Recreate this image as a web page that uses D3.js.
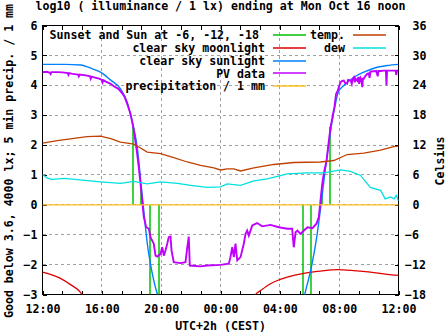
<!DOCTYPE html>
<html><head><meta charset="utf-8">
<script src="https://cdn.jsdelivr.net/npm/d3@7"></script>
<style>
body{margin:0;background:#fff}
svg{display:block;font-family:"DejaVu Sans Mono",monospace;font-weight:bold;font-size:11.6px}
</style></head><body>
<script>
// ---- data (hours after Sun Oct 15 12:00, UTC+2) ----
const xTickHours = [0, 4, 8, 12, 16, 20, 24];
const xTickLabels = ["12:00", "16:00", "20:00", "00:00", "04:00", "08:00", "12:00"];
const yTicks = [-3, -2, -1, 0, 1, 2, 3, 4, 5, 6];
const y2Ticks = [-18, -12, -6, 0, 6, 12, 18, 24, 30, 36];

// sunset / sun at -6, -12, -18 (time, value reached by the marker)
const sunT = [6.11, 6.67, 7.23, 7.87, 17.55, 18.13, 18.81, 19.37];
const sunV = [2.6, 0.5, -3, -3, -3, -3, 0.5, 2.6];

// clear sky moonlight
const moonT = [0, 0.54, 1.21, 1.89, 2.56, 3.0, null, 14.1, 14.36, 14.7, 15.37, 16.5, 17.62, 18.74, 19.87, 20.99, 22.11, 23.24, 24];
const moonV = [-2.25, -2.33, -2.46, -2.67, -2.93, -3.3, null, -3.3, -3.0, -2.87, -2.64, -2.42, -2.29, -2.22, -2.17, -2.2, -2.25, -2.33, -2.36];

// clear sky sunlight
const sunlightT = [0, 1.5, 2.56, 3.2, 3.91, 4.58, 5.26, 5.71, 5.95, 6.16, 6.4, 6.63, 6.86, 7.08, 7.3, 7.64, 7.75, 7.95, null,
  17.45, 17.68, 17.93, 18.18, 18.52, 18.81, 19.03, 19.3, 19.53, 19.75, 19.94, 20.31, 20.99, 21.66, 22.34, 23.24, 24];
const sunlightV = [4.70, 4.70, 4.68, 4.58, 4.44, 4.18, 3.88, 3.43, 2.99, 2.55, 1.87, 0.76, -0.36, -1.36, -2.03, -2.81, -3.0, -3.6, null,
  -3.6, -3.0, -2.5, -1.95, -0.97, 0.14, 1.04, 2.04, 2.82, 3.38, 3.77, 3.99, 4.27, 4.44, 4.57, 4.66, 4.70];

// PV data
const pvT = [0, 0.3, 0.5, 0.55, 0.6, 1.0, 1.35, 1.7, 1.75, 1.8, 2.02, 2.4, 2.45, 2.5, 2.92, 3.2, 3.25, 3.3, 3.6, 3.82, 4.0, 4.05, 4.1, 4.27, 4.6, 4.83, 5.12, 5.39, 5.53, 5.71, 5.93,
  6.16, 6.38, 6.49, 6.61, 6.72, 6.83, 6.99, 7.17, 7.28, 7.5, 7.62, 7.73, 7.96, 8.07, 8.18, 8.29, 8.41, 8.51, 8.63, 8.7, 8.85, 9.3, 9.64, 9.76, 9.86, 9.93, 10.65, 11.1, 12.0,
  12.56, 12.67, 12.79, 12.9, 13.01, 13.13, 13.35, 13.57, 13.69, 13.8, 13.91, 14.14, 14.47, 14.81, 15.37, 15.93, 16.5, 16.83, 16.94, 17.06, 17.19, 17.39, 17.62, 17.87, 18.2, 18.47, 18.63,
  18.74, 18.86, 18.96, 19.15, 19.28, 19.42, 19.55, 19.69, 19.79, 19.89, 20.09, 20.2, 20.31, 20.4, 20.54, 20.6, 20.77, 20.85, 20.9, 20.99, 21.05, 21.1, 21.22, 21.3, 21.35, 21.44, 21.5, 21.56, 21.6, 21.66, 21.75, 21.89,
  22.0, 22.05, 22.11, 22.3, 22.5, 22.6, 22.65, 22.79, 23.01, 23.15, 23.19, 23.23, 23.6, 23.8, 23.85, 23.9, 24];
const pvV = [4.44, 4.45, 4.42, 4.38, 4.44, 4.44, 4.43, 4.41, 4.35, 4.41, 4.38, 4.36, 4.30, 4.36, 4.33, 4.30, 4.22, 4.29, 4.25, 4.22, 4.18, 4.10, 4.17, 4.12, 4.05, 3.96, 3.88, 3.72, 3.62, 3.38, 3.05,
  2.49, 1.71, 1.26, 0.70, 0.14, -0.41, -0.75, -0.80, -1.08, -1.30, -1.70, -1.73, -1.64, -1.42, -1.70, -1.53, -1.30, -1.08, -1.06, -1.53, -1.92, -1.95, -1.92, -1.42, -1.06, -2.03, -2.06, -2.03, -2.01,
  -1.97, -1.75, -1.42, -1.75, -1.30, -1.86, -1.75, -1.30, -0.97, -0.86, -1.03, -0.69, -0.61, -0.72, -0.67, -0.75, -0.80, -0.80, -1.42, -0.92, -0.86, -0.97, -0.86, -0.75, -0.78, -0.63, -0.41,
  0.14, 0.70, 1.04, 1.48, 2.04, 2.60, 2.93, 3.30, 3.71, 3.80, 4.10, 4.15, 4.16, 4.08, 4.05, 4.18, 4.16, 4.05, 4.20, 4.27, 4.10, 4.22, 4.15, 4.28, 4.05, 4.25, 4.20, 3.94, 4.22, 4.22, 4.30, 4.38,
  4.40, 4.25, 4.46, 4.47, 4.48, 4.30, 4.48, 4.48, 4.49, 4.49, 4.00, 4.49, 4.49, 4.49, 4.35, 4.49, 4.49];

// precipitation / 1 mm
const precipT = [0, 24];
const precipV = [0, 0];

// temperature and dew point (Celsius)
const tempT = [0, 1, 2, 3, 3.91, 4.6, 5.26, 6.16, 7.06, 7.96, 8.85, 9.76, 10.65, 11.55, 12.0, 12.45, 12.9, 13.35, 14.25, 15.6, 16.94, 18.74, 19.64, 20.54, 21.66, 22.79, 23.68, 24];
const tempV = [12.4, 12.9, 13.3, 13.7, 13.8, 13.3, 12.6, 12.2, 10.6, 10.3, 9.5, 8.6, 7.9, 7.4, 7.0, 7.2, 7.2, 6.8, 7.4, 8.1, 8.5, 8.6, 8.9, 10.1, 10.4, 11.0, 11.7, 11.8];
const dewT = [0, 0.3, 0.6, 1.5, 2.5, 3.91, 5.26, 6.16, 7.06, 7.96, 9.1, 10.0, 11.1, 12.0, 12.45, 13.35, 14.25, 15.15, 16.5, 17.85, 18.96, 20.1, 20.77, 21.44, 22.1, 22.8, 23.1, 23.46, 23.7, 23.85, 24];
const dewV = [6.1, 5.4, 5.1, 5.3, 5.0, 4.6, 4.3, 4.7, 4.2, 4.6, 4.3, 3.9, 3.5, 3.6, 4.2, 3.9, 4.8, 5.2, 6.2, 6.4, 6.4, 7.0, 6.7, 5.9, 3.5, 2.9, 1.2, 1.6, 1.2, 1.9, 0.8];

const legendLabels = ["Sunset and Sun at -6, -12, -18", "clear sky moonlight", "clear sky sunlight", "PV data", "precipitation / 1 mm", "temp.", "dew"];
const colors = ["#00c000", "#e00000", "#0080ff", "#c000ff", "#ffc020", "#c04000", "#00e0e0"];

// ---- drawing ----
const W = 447, H = 335;
const L = 42.5, R = 398.5, T = 25.5, B = 294.5;
const svg = d3.select("body").append("svg").attr("width", W).attr("height", H);
const x = d3.scaleLinear().domain([0, 24]).range([L, R]);
const y = d3.scaleLinear().domain([-3, 6]).range([B, T]);
const y2 = d3.scaleLinear().domain([-18, 36]).range([B, T]);

svg.append("defs").append("clipPath").attr("id", "clip")
  .append("rect").attr("x", L).attr("y", T).attr("width", R - L).attr("height", B - T);

// grid
const grid = svg.append("g").attr("stroke", "#a0a0a0").attr("stroke-dasharray", "3,3").attr("shape-rendering", "crispEdges");
grid.selectAll(".gx").data(xTickHours.slice(1, -1)).join("line")
  .attr("x1", d => x(d)).attr("x2", d => x(d)).attr("y1", T).attr("y2", B);
grid.selectAll(".gy").data(yTicks.slice(1, -1)).join("line")
  .attr("x1", L).attr("x2", R).attr("y1", d => y(d)).attr("y2", d => y(d));

// axes
const fmtX = (d, i) => xTickLabels[xTickHours.indexOf(d)];
const minor = d3.range(0, 24.001, 4 / 3);
const ax = svg.append("g").attr("shape-rendering", "crispEdges");
ax.append("g").attr("transform", `translate(0,${B})`).call(d3.axisBottom(x).tickValues(minor).tickSize(-4).tickFormat(""));
ax.append("g").attr("transform", `translate(0,${T})`).call(d3.axisTop(x).tickValues(minor).tickSize(-4).tickFormat(""));
const xl = ax.append("g").attr("transform", `translate(0,${B})`).call(d3.axisBottom(x).tickValues(xTickHours).tickSize(0).tickFormat(fmtX));
xl.selectAll("text").attr("y", 18.5).attr("dy", null);
ax.append("g").attr("transform", `translate(${L},0)`).call(d3.axisLeft(y).tickValues(yTicks).tickSize(-4).tickPadding(5));
const yr = ax.append("g").attr("transform", `translate(${R},0)`).call(d3.axisRight(y2).tickValues(y2Ticks).tickSize(-4));
yr.selectAll("text").attr("text-anchor", "start").attr("x", d => d < 0 ? 6.5 : 14);
ax.selectAll(".domain").remove();
ax.selectAll("text").attr("fill", "#000").style("font-family", "DejaVu Sans Mono").style("font-size", "11.6px").style("font-weight", "bold");
ax.selectAll(".tick line").attr("stroke", "#000");
svg.append("rect").attr("x", L).attr("y", T).attr("width", R - L).attr("height", B - T)
  .attr("fill", "none").attr("stroke", "#000").attr("shape-rendering", "crispEdges");

// series
const plot = svg.append("g").attr("clip-path", "url(#clip)").attr("fill", "none");
function series(T_, V_, scale, color, w, curve) {
  const pts = T_.map((t, i) => [t, V_[i]]);
  const line = d3.line().defined(d => d[0] != null && d[1] != null)
    .x(d => x(d[0])).y(d => scale(d[1])).curve(curve || d3.curveLinear);
  plot.append("path").attr("d", line(pts)).attr("stroke", color).attr("stroke-width", w);
}
// sun markers
plot.selectAll(".sun").data(sunT.map((t, i) => [t, sunV[i]])).join("line")
  .attr("x1", d => Math.round(x(d[0]))).attr("x2", d => Math.round(x(d[0])))
  .attr("y1", y(0)).attr("y2", d => y(d[1])).attr("stroke", colors[0]).attr("stroke-width", 1.5);
series(moonT, moonV, y, colors[1], 1.3, d3.curveMonotoneX);
series(sunlightT, sunlightV, y, colors[2], 1.4, d3.curveMonotoneX);
series(pvT, pvV, y, colors[3], 1.9);
series(precipT, precipV, y, colors[4], 1.3);
series(tempT, tempV, y2, colors[5], 1.3);
series(dewT, dewV, y2, colors[6], 1.3);

// legend
const leg = svg.append("g");
const rows = [0, 1, 2, 3, 4, 0, 1];
legendLabels.forEach((lab, i) => {
  const cy = 35 + rows[i] * 12.8;
  const col2 = i >= 5;
  const tx = col2 ? 345 : (i === 0 ? 259 : 265);
  const lx1 = col2 ? 353 : 273, lx2 = col2 ? 386 : 306;
  leg.append("text").attr("x", tx).attr("y", cy + 4.2).attr("text-anchor", "end").text(lab);
  leg.append("line").attr("x1", lx1).attr("x2", lx2).attr("y1", Math.round(cy)).attr("y2", Math.round(cy))
    .attr("stroke", colors[i]).attr("stroke-width", 1.5);
});

// titles
svg.append("text").attr("x", 220.5).attr("y", 9.5).attr("text-anchor", "middle")
  .text("log10 ( illuminance / 1 lx) ending at Mon Oct 16 noon");
svg.append("text").attr("x", 220.5).attr("y", 329.5).attr("text-anchor", "middle").text("UTC+2h (CEST)");
svg.append("text").attr("transform", "translate(12.5,161) rotate(-90)").attr("text-anchor", "middle")
  .text("Good below 3.6, 4000 lx; 5 min precip. / 1 mm");
svg.append("text").attr("transform", "translate(444,161) rotate(-90)").attr("text-anchor", "middle").text("Celsius");
</script></body></html>
